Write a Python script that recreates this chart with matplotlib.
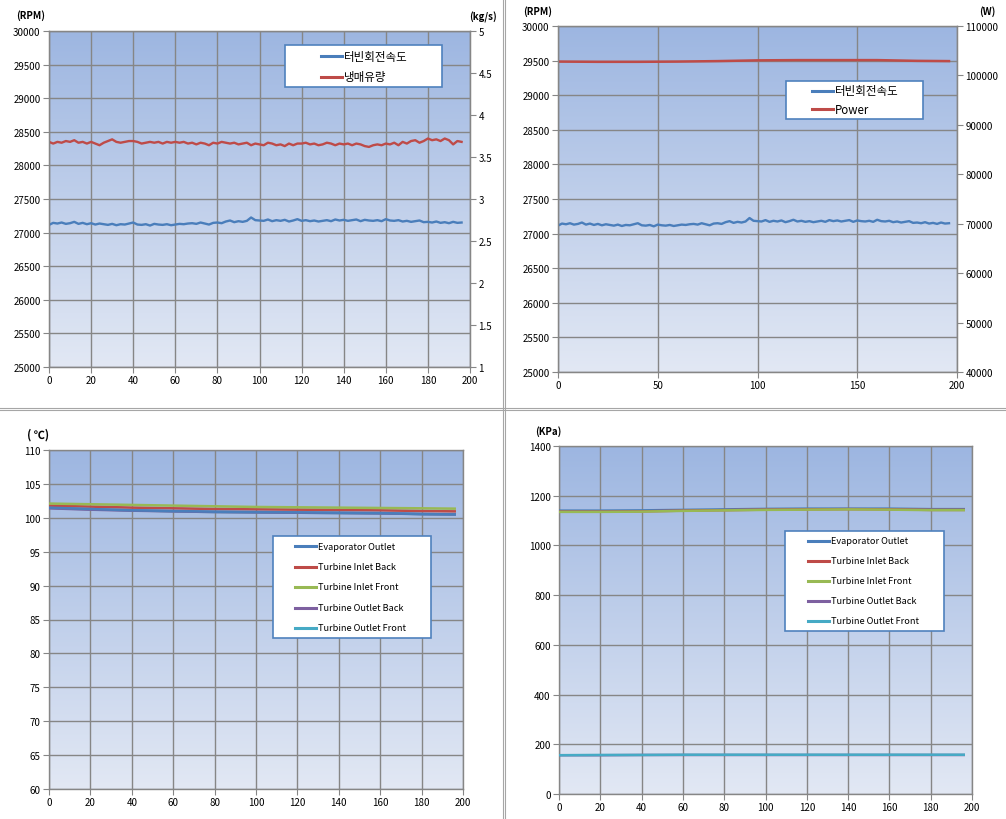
import numpy as np
import matplotlib
matplotlib.use("Agg")
import matplotlib.pyplot as plt
from matplotlib.lines import Line2D
from matplotlib.patches import Rectangle
from matplotlib.colors import LinearSegmentedColormap
from matplotlib.ticker import FormatStrFormatter

plt.rcParams['font.family'] = ['Noto Sans CJK KR', 'DejaVu Sans']

# time axis (s)
t_fine = np.arange(0, 197, 2)
t_coarse = [0, 20, 40, 60, 80, 100, 120, 140, 160, 180, 196]

# turbine speed (RPM), every 2 s
rpm = [
    27115, 27145, 27135, 27150, 27130, 27140, 27160, 27130, 27145, 27125,
    27140, 27120, 27135, 27125, 27115, 27130, 27110, 27125, 27120, 27135,
    27150, 27120, 27115, 27125, 27105, 27130, 27120, 27115, 27125, 27110,
    27120, 27130, 27125, 27135, 27140, 27130, 27150, 27135, 27120, 27145,
    27150, 27140, 27165, 27180, 27155, 27170, 27160, 27175, 27225, 27185,
    27180, 27175, 27195, 27170, 27185, 27175, 27190, 27165, 27180, 27200,
    27175, 27185, 27170, 27180, 27165, 27175, 27185, 27170, 27195, 27180,
    27190, 27175, 27185, 27195, 27170, 27190, 27180, 27175, 27185, 27170,
    27200, 27180, 27175, 27185, 27165, 27175, 27160, 27170, 27180, 27155,
    27160, 27150, 27165, 27145, 27155, 27140, 27160, 27145, 27150,
]

# refrigerant mass flow (kg/s), every 2 s
flow = [
    3.68, 3.66, 3.68, 3.67, 3.69, 3.68, 3.70, 3.67, 3.68, 3.66,
    3.68, 3.66, 3.64, 3.67, 3.69, 3.71, 3.68, 3.67, 3.68, 3.69,
    3.69, 3.68, 3.66, 3.67, 3.68, 3.67, 3.68, 3.66, 3.68, 3.67,
    3.68, 3.67, 3.68, 3.66, 3.67, 3.65, 3.67, 3.66, 3.64, 3.67,
    3.66, 3.68, 3.67, 3.66, 3.67, 3.65, 3.66, 3.67, 3.64, 3.66,
    3.65, 3.64, 3.67, 3.66, 3.64, 3.65, 3.63, 3.66, 3.64, 3.66,
    3.66, 3.67, 3.65, 3.66, 3.64, 3.65, 3.67, 3.66, 3.64, 3.66,
    3.65, 3.66, 3.64, 3.66, 3.65, 3.63, 3.62, 3.64, 3.65, 3.64,
    3.66, 3.65, 3.67, 3.64, 3.68, 3.66, 3.69, 3.70, 3.67, 3.69,
    3.72, 3.70, 3.71, 3.69, 3.72, 3.70, 3.65, 3.69, 3.68,
]

# power (W)
power = [102800, 102750, 102750, 102800, 102900, 103050, 103100, 103100, 103100, 102950, 102900]

# temperatures (deg C)
temp_evap = [101.5, 101.3, 101.1, 101.0, 100.9, 100.85, 100.8, 100.75, 100.7, 100.55, 100.5]
temp_in_back = [101.8, 101.65, 101.5, 101.4, 101.3, 101.25, 101.2, 101.15, 101.1, 101.0, 100.95]
temp_in_front = [102.1, 102.0, 101.9, 101.8, 101.7, 101.6, 101.55, 101.5, 101.45, 101.4, 101.35]
temp_out_back = [101.4, 101.2, 101.05, 100.95, 100.85, 100.8, 100.75, 100.7, 100.65, 100.55, 100.5]
temp_out_front = [101.45, 101.25, 101.1, 100.95, 100.85, 100.8, 100.75, 100.7, 100.65, 100.55, 100.5]

# pressures (kPa)
p_evap = [1140, 1140, 1141, 1143, 1145, 1147, 1148, 1148, 1148, 1146, 1146]
p_in_back = [1136, 1136, 1137, 1140, 1142, 1144, 1145, 1146, 1145, 1143, 1143]
p_in_front = [1135, 1135, 1136, 1139, 1141, 1143, 1144, 1145, 1144, 1142, 1142]
p_out_back = [156, 156, 157, 157, 157, 157, 157, 157, 157, 157, 157]
p_out_front = [156, 157, 157, 158, 158, 158, 158, 158, 158, 158, 158]

series_names = ['Evaporator Outlet', 'Turbine Inlet Back', 'Turbine Inlet Front',
                'Turbine Outlet Back', 'Turbine Outlet Front']
BLUE, RED, GREEN, PURPLE, CYAN = '#4A7EBB', '#BE4B48', '#98B954', '#7D60A0', '#46AAC5'
series_colors = [BLUE, RED, GREEN, PURPLE, CYAN]
GRAY = '#868686'

W, H = 1006, 820
fig = plt.figure(figsize=(W / 100, H / 100), dpi=100)
fig.patch.set_facecolor('white')

cmap = LinearSegmentedColormap.from_list('xl', ['#9DB6E1', '#E2E8F4'])


def px_axes(l, t, r, b):
    return fig.add_axes([l / W, 1 - b / H, (r - l) / W, (b - t) / H])


def style(ax, xticks, ylim, yticks):
    grad = np.linspace(0, 1, 256).reshape(-1, 1)
    ax.imshow(grad, extent=[0, 1, 0, 1], transform=ax.transAxes, aspect='auto',
              cmap=cmap, origin='upper', zorder=0, interpolation='bilinear')
    ax.set_xlim(0, 200)
    ax.set_ylim(*ylim)
    ax.set_xticks(xticks)
    ax.set_yticks(yticks)
    ax.set_axisbelow(True)
    ax.grid(True, color=GRAY, lw=1.0)
    for s in ax.spines.values():
        s.set_color(GRAY)
        s.set_linewidth(1.0)
    ax.tick_params(direction='out', length=4, color=GRAY, labelsize=7, pad=2)


def legend_box(x0, y0, x1, y1, hx, rows, labels, colors, fs):
    fig.add_artist(Rectangle((x0 / W, 1 - y1 / H), (x1 - x0) / W, (y1 - y0) / H,
                             transform=fig.transFigure, facecolor='white',
                             edgecolor='#4F81BD', lw=1.2, zorder=5))
    for label, color, y in zip(labels, colors, rows):
        fig.add_artist(Line2D([hx / W, (hx + 21) / W], [1 - y / H] * 2,
                              transform=fig.transFigure, color=color, lw=2.2, zorder=6))
        fig.text((hx + 23) / W, 1 - y / H, label, fontsize=fs, va='center',
                 ha='left', zorder=7)


# panel 1: speed and mass flow
ax1 = px_axes(49, 32, 470, 368)
style(ax1, range(0, 201, 20), (25000, 30000), range(25000, 30001, 500))
ax1.plot(t_fine, rpm, color=BLUE, lw=1.7, zorder=3)
ax1r = ax1.twinx()
ax1r.plot(t_fine, flow, color=RED, lw=1.7)
ax1r.set_ylim(1, 5)
ax1r.set_yticks(np.arange(1, 5.01, 0.5))
ax1r.yaxis.set_major_formatter(FormatStrFormatter('%g'))
ax1r.tick_params(direction='out', length=4, color=GRAY, labelsize=7, pad=2)
for s in ax1r.spines.values():
    s.set_color(GRAY)
fig.text(16 / W, 1 - 16 / H, '(RPM)', fontsize=7, fontweight='bold', va='center')
fig.text(497 / W, 1 - 17 / H, '(kg/s)', fontsize=7, fontweight='bold', va='center', ha='right')
legend_box(285, 46, 442, 88, 321, [57, 78], ['터빈회전속도', '냉매유량'], [BLUE, RED], 8.3)

# panel 2: speed and power
ax2 = px_axes(558, 27, 957, 373)
style(ax2, range(0, 201, 50), (25000, 30000), range(25000, 30001, 500))
ax2.plot(t_fine, rpm, color=BLUE, lw=1.7, zorder=3)
ax2r = ax2.twinx()
ax2r.plot(t_coarse, power, color=RED, lw=1.8)
ax2r.set_ylim(40000, 110000)
ax2r.set_yticks(range(40000, 110001, 10000))
ax2r.tick_params(direction='out', length=4, color=GRAY, labelsize=7, pad=2)
for s in ax2r.spines.values():
    s.set_color(GRAY)
fig.text(523 / W, 1 - 12 / H, '(RPM)', fontsize=7, fontweight='bold', va='center')
fig.text(996 / W, 1 - 12 / H, '(W)', fontsize=7, fontweight='bold', va='center', ha='right')
legend_box(786, 82, 923, 120, 812, [92, 110], ['터빈회전속도', 'Power'], [BLUE, RED], 8.3)

# panel 3: temperatures
ax3 = px_axes(49, 451, 463, 790)
style(ax3, range(0, 201, 20), (60, 110), range(60, 111, 5))
temps = [temp_evap, temp_in_back, temp_in_front, temp_out_back, temp_out_front]
zs = [3.5, 3.4, 3.6, 3.1, 3.0]
for vals, c, z in zip(temps, series_colors, zs):
    ax3.plot(t_coarse, vals, color=c, lw=1.8, zorder=z)
fig.text(27 / W, 1 - 435 / H, '( ℃)', fontsize=8, fontweight='bold', va='center')
legend_box(273, 537, 431, 639, 295, [547, 568, 588, 609, 629],
           series_names, series_colors, 6.6)

# panel 4: pressures
ax4 = px_axes(559, 447, 972, 795)
style(ax4, range(0, 201, 20), (0, 1400), range(0, 1401, 200))
press = [p_evap, p_in_back, p_in_front, p_out_back, p_out_front]
zs = [3.0, 3.1, 3.2, 3.3, 3.4]
for vals, c, z in zip(press, series_colors, zs):
    ax4.plot(t_coarse, vals, color=c, lw=1.8, zorder=z)
fig.text(535 / W, 1 - 432 / H, '(KPa)', fontsize=7, fontweight='bold', va='center')
legend_box(785, 532, 944, 632, 808, [542, 562, 582, 602, 622],
           series_names, series_colors, 6.6)

# sheet separators
for x in (503, 505):
    fig.add_artist(Line2D([x / W, x / W], [0, 1], transform=fig.transFigure, color='#A6A6A6', lw=0.8))
for y in (409, 411):
    fig.add_artist(Line2D([0, 1], [1 - y / H, 1 - y / H], transform=fig.transFigure, color='#A6A6A6', lw=0.8))

fig.savefig('out.png', dpi=100)
